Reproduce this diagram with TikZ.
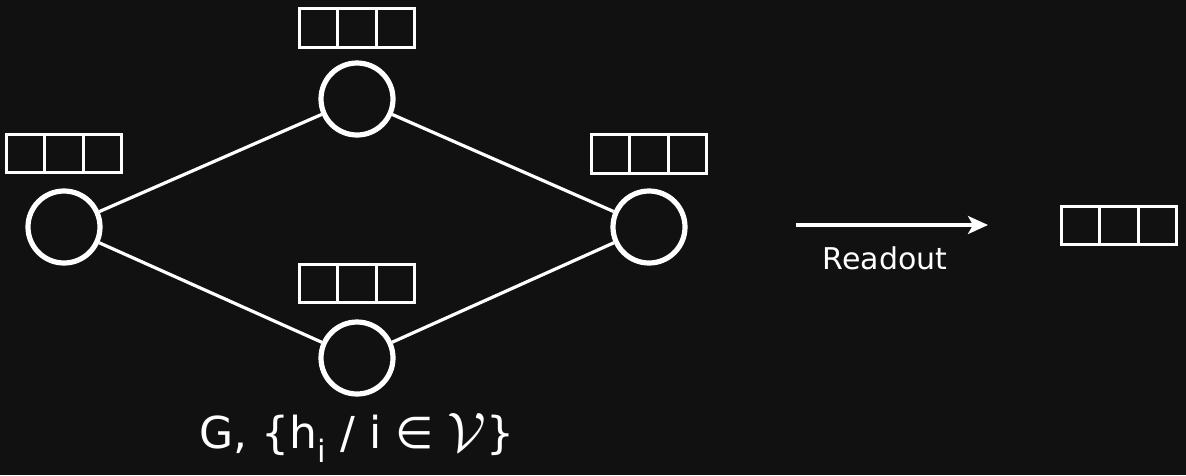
\documentclass[tikz,border=0pt]{standalone}
\usepackage{fontspec}
\setmainfont{DejaVu Sans}
\usetikzlibrary{arrows.meta}
\definecolor{bg}{HTML}{111111}
\tikzset{
  vert/.style={circle, draw=white, line width=5.2pt, minimum size=72pt, inner sep=0pt},
  edge/.style={draw=white, line width=3.2pt},
  cell/.style={draw=white, line width=3pt, minimum width=38.3pt, minimum height=38.5pt, inner sep=0pt, outer sep=0pt, anchor=west},
  lbl/.style={text=white, inner sep=0pt}
}
\newcommand{\featvec}[3]{%
  \node[cell] (#1a) at (#2,#3) {};
  \node[cell, anchor=west] (#1b) at (#1a.east) {};
  \node[cell, anchor=west] (#1c) at (#1b.east) {};
}
\begin{document}
\begin{tikzpicture}[x=1pt,y=-1pt]
\fill[bg] (0,0) rectangle (1186,475);
\useasboundingbox (0,0) rectangle (1186,475);
\node[vert] (L) at (64,227) {};
\node[vert] (T) at (357,99) {};
\node[vert] (B) at (357,358) {};
\node[vert] (R) at (649,227) {};
\draw[edge] (L) -- (T);
\draw[edge] (L) -- (B);
\draw[edge] (T) -- (R);
\draw[edge] (B) -- (R);
\featvec{bl}{6.5}{153.5}
\featvec{bt}{299.5}{28}
\featvec{bb}{299.5}{283.5}
\featvec{br}{591.5}{154}
\featvec{bo}{1061.5}{225.5}
\coordinate (as) at (796,225);
\coordinate (ae) at (988,225);
\draw[white, line width=3.2pt, -{Stealth[length=20pt,width=18pt,inset=5pt]}] (as) -- (ae);
\node[lbl, font=\fontsize{30}{34}\selectfont] (ro) at (885,258) {Readout};
\node[lbl, font=\fontsize{44}{48}\selectfont] (g) at (357,438) {G, \{h\textsubscript{i} / i ∈ \raisebox{-3pt}{\resizebox{!}{38pt}{$\mathcal{V}$}}\}};
\end{tikzpicture}
\end{document}
